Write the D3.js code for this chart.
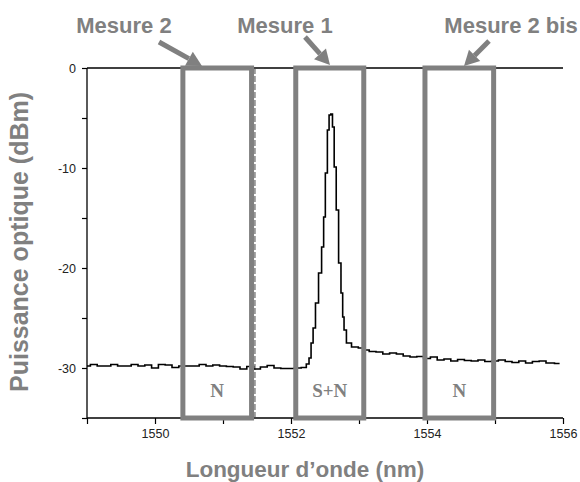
<!DOCTYPE html>
<html>
<head>
<meta charset="utf-8">
<script src="https://cdn.jsdelivr.net/npm/d3@7"></script>
<style>
  html, body { margin: 0; padding: 0; background: #fff; }
  svg { display: block; }
</style>
</head>
<body>
<script>
// ---- data ----
const wavelength = [
  1549.0, 1549.1, 1549.2, 1549.3, 1549.4, 1549.5, 1549.6, 1549.7, 1549.8, 1549.9,
  1550.0, 1550.1, 1550.2, 1550.3, 1550.4, 1550.5, 1550.6, 1550.7, 1550.8, 1550.9,
  1551.0, 1551.1, 1551.2, 1551.3, 1551.4, 1551.5, 1551.6, 1551.7, 1551.8, 1551.9,
  1552.0, 1552.1, 1552.2, 1552.25, 1552.28, 1552.31, 1552.34, 1552.38, 1552.43, 1552.47,
  1552.49, 1552.52, 1552.55, 1552.57, 1552.60, 1552.62, 1552.65, 1552.68, 1552.72, 1552.75,
  1552.77, 1552.79, 1552.84, 1552.94, 1553.04, 1553.08, 1553.1, 1553.2, 1553.3, 1553.4,
  1553.5, 1553.6, 1553.7, 1553.8, 1553.9, 1554.0, 1554.1, 1554.2, 1554.3, 1554.4,
  1554.5, 1554.6, 1554.7, 1554.8, 1554.9, 1555.0, 1555.1, 1555.2, 1555.3, 1555.4,
  1555.5, 1555.6, 1555.7, 1555.8, 1555.95
];
const power = [
  -29.8, -29.65, -29.8, -29.8, -29.65, -29.8, -29.8, -29.65, -29.8, -29.7,
  -30.0, -29.65, -29.7, -29.95, -29.8, -29.8, -29.8, -29.65, -29.8, -29.7,
  -29.8, -29.85, -29.9, -30.1, -29.85, -30.1, -29.9, -29.75, -30.0, -30.05,
  -30.05, -30.0, -29.95, -29.6, -29.0, -27.5, -26.0, -23.5, -20.5, -17.9,
  -14.9, -10.5, -6.2, -4.7, -4.6, -5.9, -9.9, -14.2, -19.5, -22.5,
  -24.9, -26.2, -27.5, -27.9, -28.0, -28.4, -28.2, -28.35, -28.4, -28.6,
  -28.5, -28.6, -28.8, -28.9, -28.85, -29.05, -28.9, -29.2, -29.1, -29.3,
  -29.15, -29.25, -29.3, -29.2, -29.35, -29.3, -29.2, -29.35, -29.45, -29.3,
  -29.5, -29.35, -29.3, -29.5, -29.55
];
const xTickValues = [1549, 1550, 1551, 1552, 1553, 1554, 1555, 1556];
const xTickLabels = [1550, 1552, 1554, 1556];
const yTickValues = [0, -5, -10, -15, -20, -25, -30, -35];
const yTickLabels = [0, -10, -20, -30];
const boxStart = [1550.41, 1552.07, 1553.97];
const boxEnd   = [1551.42, 1553.07, 1554.98];
const boxLabels = ["N", "S+N", "N"];
const markerLine = [1551.47];
const measureNames = ["Mesure 2", "Mesure 1", "Mesure 2 bis"];
const xTitle = "Longueur d\u2019onde (nm)";
const yTitle = "Puissance optique (dBm)";

// ---- layout ----
const W = 580, H = 482;
const gray = "#808080";
const svg = d3.select("body").append("svg").attr("width", W).attr("height", H);

const x = d3.scaleLinear().domain([1549, 1556]).range([87, 563]);
const y = d3.scaleLinear().domain([0, -35]).range([68, 418]);

// top frame line
svg.append("line")
  .attr("x1", x(1549)).attr("x2", x(1556))
  .attr("y1", y(0)).attr("y2", y(0))
  .attr("stroke", "#000").attr("stroke-width", 1.3);

// axes
const xAxis = d3.axisBottom(x).tickValues(xTickValues).tickSize(6).tickPadding(5)
  .tickFormat(d => xTickLabels.includes(d) ? d3.format("d")(d) : "");
const gx = svg.append("g").attr("transform", `translate(0,${y(-35)})`).call(xAxis);
gx.select(".domain").attr("d", `M${x(1549)},0H${x(1556)}`).attr("stroke-width", 1.3);

const yAxis = d3.axisLeft(y).tickValues(yTickValues).tickSize(5).tickPadding(6)
  .tickFormat(d => yTickLabels.includes(d) ? String(d) : "");
const gy = svg.append("g").attr("transform", `translate(${x(1549)},0)`).call(yAxis);
gy.select(".domain").attr("d", `M0,${y(0)}V${y(-35)}`).attr("stroke-width", 1.3);

[gx, gy].forEach(g => {
  g.selectAll(".tick line").attr("stroke", "#000").attr("stroke-width", 1.2);
  g.selectAll(".tick text").attr("font-family", "Liberation Sans, Arial, sans-serif")
    .attr("font-size", 12.5).attr("fill", "#222");
});

// dashed instrument marker line
markerLine.forEach(m => {
  svg.append("line")
    .attr("x1", x(m)).attr("x2", x(m))
    .attr("y1", y(0)).attr("y2", y(-35))
    .attr("stroke", "#444").attr("stroke-width", 1)
    .attr("stroke-dasharray", "6,2");
});

// trace
const pts = wavelength.map((w, i) => [w, power[i]]);
svg.append("path")
  .datum(pts)
  .attr("fill", "none")
  .attr("stroke", "#000")
  .attr("stroke-width", 1.6)
  .attr("d", d3.line().x(d => x(d[0])).y(d => y(d[1])).curve(d3.curveStep));

// measurement boxes
const boxes = svg.append("g");
boxStart.forEach((s, i) => {
  boxes.append("rect")
    .attr("x", x(s)).attr("y", y(0))
    .attr("width", x(boxEnd[i]) - x(s))
    .attr("height", y(-35) - y(0))
    .attr("fill", "none").attr("stroke", gray).attr("stroke-width", 5);
  boxes.append("text")
    .attr("x", (x(s) + x(boxEnd[i])) / 2)
    .attr("y", 397)
    .attr("text-anchor", "middle")
    .attr("font-family", "Liberation Serif, Times New Roman, serif")
    .attr("font-weight", "bold")
    .attr("font-size", 19)
    .attr("fill", gray)
    .text(boxLabels[i]);
});

// annotations with arrows
const ann = [
  { cx: 124, tail: [159, 42], tip: [202, 66] },
  { cx: 285, tail: [305, 37], tip: [330, 65] },
  { cx: 511, tail: [489, 41], tip: [464, 66] }
];
measureNames.forEach((name, i) => {
  svg.append("text")
    .attr("x", ann[i].cx).attr("y", 33)
    .attr("text-anchor", "middle")
    .attr("font-family", "Liberation Sans, Arial, sans-serif")
    .attr("font-weight", "bold")
    .attr("font-size", 22)
    .attr("fill", gray)
    .text(name);
  const [x1, y1] = ann[i].tail, [x2, y2] = ann[i].tip;
  const ang = Math.atan2(y2 - y1, x2 - x1);
  const hl = 15, hw = 8;
  const bx = x2 - hl * Math.cos(ang), by = y2 - hl * Math.sin(ang);
  svg.append("line")
    .attr("x1", x1).attr("y1", y1).attr("x2", bx).attr("y2", by)
    .attr("stroke", gray).attr("stroke-width", 5);
  const px = -Math.sin(ang), py = Math.cos(ang);
  svg.append("path")
    .attr("d", `M${x2},${y2}L${bx + hw * px},${by + hw * py}L${bx - hw * px},${by - hw * py}Z`)
    .attr("fill", gray);
});

// axis titles
svg.append("text")
  .attr("x", 305).attr("y", 477)
  .attr("text-anchor", "middle")
  .attr("font-family", "Liberation Sans, Arial, sans-serif")
  .attr("font-weight", "bold")
  .attr("font-size", 22.5)
  .attr("fill", gray)
  .text(xTitle);

svg.append("text")
  .attr("transform", "translate(28,242) rotate(-90)")
  .attr("text-anchor", "middle")
  .attr("font-family", "Liberation Sans, Arial, sans-serif")
  .attr("font-weight", "bold")
  .attr("font-size", 25)
  .attr("fill", gray)
  .text(yTitle);
</script>
</body>
</html>
